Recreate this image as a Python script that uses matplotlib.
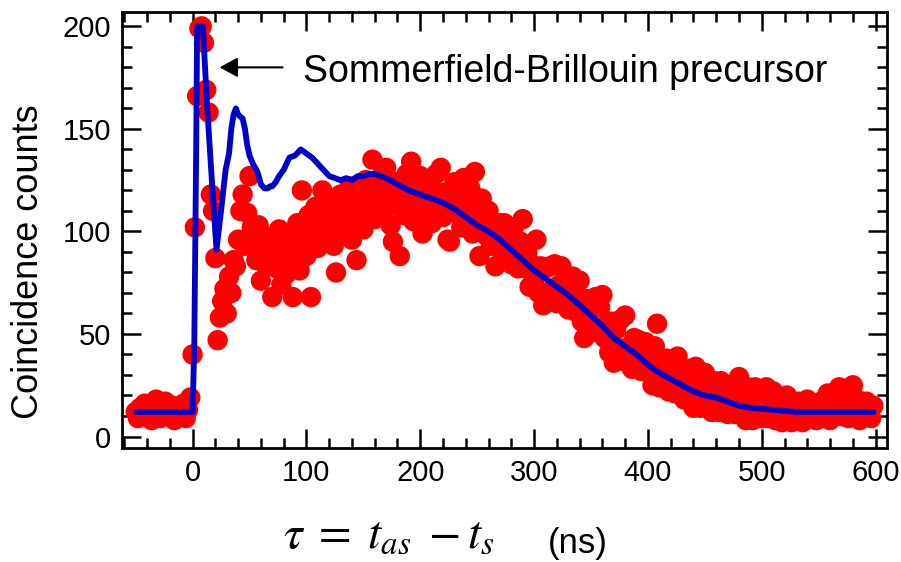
import numpy as np
import matplotlib
matplotlib.use('Agg')
import matplotlib.pyplot as plt
from matplotlib import font_manager
from matplotlib.ticker import MultipleLocator

plt.rcParams['font.family'] = ['Liberation Sans', 'DejaVu Sans']
plt.rcParams['mathtext.fontset'] = 'stix'

# measured coincidence counts, 2 ns bins starting at -50 ns
tau_start, bin_ns = -50, 2
counts = [
    12, 9, 14, 11, 16, 10, 13, 8, 15, 18, 11, 9, 13, 17, 10, 12, 15, 8, 11, 14,
    12, 16, 9, 13, 19, 40, 102, 166, 199, 200, 192, 169, 158, 118, 110, 87, 47, 58, 66, 72,
    60, 78, 70, 86, 83, 96, 110, 118, 93, 109, 127, 102, 96, 86, 103, 76, 92, 84, 97, 88,
    68, 95, 82, 101, 74, 90, 79, 99, 86, 68, 93, 104, 81, 120, 97, 88, 108, 68, 99, 112,
    92, 104, 120, 96, 110, 101, 116, 93, 80, 107, 118, 99, 112, 104, 122, 96, 114, 86, 109, 119,
    101, 125, 112, 118, 135, 106, 121, 115, 127, 109, 131, 118, 103, 95, 124, 113, 88, 120, 108, 128,
    116, 134, 105, 122, 112, 127, 99, 118, 110, 124, 104, 120, 128, 113, 131, 107, 119, 96, 95, 115,
    124, 109, 118, 102, 126, 112, 105, 121, 99, 129, 110, 88, 116, 104, 98, 110, 93, 104, 83, 100,
    104, 90, 104, 91, 95, 84, 102, 90, 82, 95, 106, 82, 90, 73, 84, 75, 96, 70, 83, 64,
    82, 70, 83, 72, 84, 65, 74, 83, 66, 77, 62, 72, 78, 61, 68, 76, 56, 48, 67, 56,
    64, 51, 68, 52, 63, 69, 48, 55, 41, 56, 36, 52, 43, 57, 37, 59, 38, 44, 33, 48,
    35, 47, 32, 41, 46, 32, 40, 25, 44, 55, 24, 35, 26, 38, 22, 31, 37, 21, 39, 23,
    33, 18, 27, 33, 18, 14, 34, 23, 14, 28, 31, 14, 24, 12, 27, 20, 12, 27, 14, 23,
    11, 25, 19, 11, 26, 29, 11, 21, 8, 24, 16, 8, 24, 11, 21, 9, 22, 24, 9, 16,
    22, 8, 14, 19, 7, 11, 20, 10, 7, 15, 9, 17, 12, 7, 14, 18, 9, 13, 16, 8,
    12, 17, 9, 14, 21, 8, 15, 11, 19, 24, 10, 13, 22, 9, 16, 25, 12, 18, 8, 14,
    11, 17, 13, 9, 15,
]
tau = tau_start + bin_ns * np.arange(len(counts))

# theory curve
theory_tau = [-50, 0, 1.5, 3, 4, 9, 13, 17.5, 21, 25,
              29, 32, 34, 36, 38, 40, 44, 46, 48, 50,
              53, 57, 60, 63, 66, 68, 70, 73, 76, 80,
              85, 90, 95, 100, 105, 110, 115, 120, 125, 130,
              135, 140, 145, 150, 155, 160, 165, 170, 180, 190,
              200, 210, 220, 230, 240, 250, 260, 270, 280, 290,
              300, 310, 320, 330, 340, 350, 360, 370, 380, 390,
              400, 410, 420, 430, 440, 450, 460, 470, 480, 490,
              500, 510, 520, 530, 540, 560, 580, 598]
theory_counts = [12, 12, 45, 130, 200, 200, 159, 120, 91, 110,
                 130, 138, 150, 157, 160, 157, 155, 150, 142, 137,
                 133, 129, 123, 121, 121, 122, 122, 124, 127, 130,
                 136, 137, 140, 138, 136, 133, 130, 127, 126, 125,
                 126, 125, 127, 127, 128, 128, 127, 126, 123, 120,
                 118, 116, 114, 111, 107, 103, 100, 96, 91, 86,
                 81, 77, 73, 69, 64, 59, 54, 48, 44, 40,
                 35, 31, 28, 25, 22, 20, 19, 17, 15, 14,
                 13.5, 13, 12.5, 12, 12, 12, 12, 12]

# tall, narrow digits if the narrow face is there
names = {f.name for f in font_manager.fontManager.ttflist}
if 'Liberation Sans Narrow' in names:
    tick_family, tick_size = 'Liberation Sans Narrow', 24
else:
    tick_family, tick_size = 'Liberation Sans', 21

fig = plt.figure(figsize=(9.01, 5.62), dpi=100)
ax = fig.add_axes([122/901, 1 - 448/562, 765/901, 436/562])

ax.scatter(tau, counts, s=215, c='#ff0000', edgecolors='none', zorder=2)
ax.plot(theory_tau, theory_counts, color='#0000c8', lw=4.2, zorder=3,
        solid_joinstyle='round', solid_capstyle='round')

ax.set_xlim(-62, 610)
ax.set_ylim(-5.6, 207)
ax.xaxis.set_major_locator(MultipleLocator(100))
ax.xaxis.set_minor_locator(MultipleLocator(20))
ax.yaxis.set_major_locator(MultipleLocator(50))
ax.yaxis.set_minor_locator(MultipleLocator(10))
ax.tick_params(which='both', direction='in', top=True, right=True, width=1.8,
               labelsize=tick_size, pad=8)
ax.tick_params(which='major', length=14)
ax.tick_params(which='minor', length=7)
for lab in ax.get_xticklabels() + ax.get_yticklabels():
    lab.set_family(tick_family)
for s in ax.spines.values():
    s.set_linewidth(2)

ax.set_ylabel('Coincidence counts', fontsize=26)
ax.yaxis.set_label_coords(-0.10, 0.427)

ax.annotate('', xy=(23.7, 180), xytext=(79, 180),
            arrowprops=dict(arrowstyle='-|>,head_length=0.55,head_width=0.3',
                            color='black', lw=1.5, shrinkA=0, shrinkB=0,
                            mutation_scale=20))
ax.text(96.7, 173, 'Sommerfield-Brillouin precursor', fontsize=27,
        ha='left', va='baseline')

fig.text(283/901, 1 - 548/562, r'$\tau\;=\;t_{as}\;-t_s$', fontsize=34,
         ha='left', va='baseline')
fig.text(548/901, 1 - 553/562, '(ns)', fontsize=25, ha='left', va='baseline')

fig.savefig('out.png', dpi=100)
